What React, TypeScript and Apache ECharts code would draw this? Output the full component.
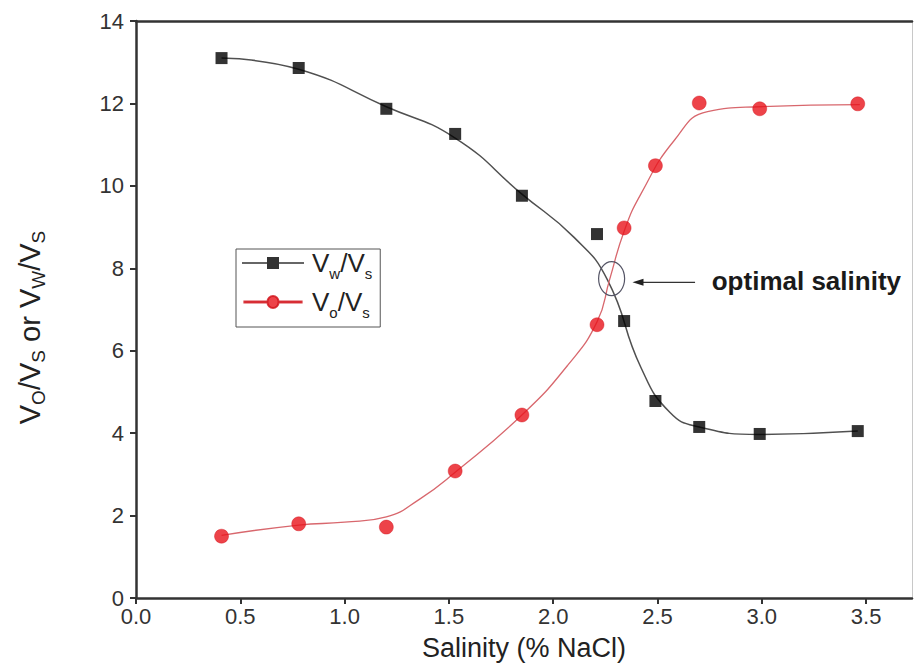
import React, { useEffect, useRef } from 'react';
import * as echarts from 'echarts';

const salinity = [0.41, 0.78, 1.2, 1.53, 1.85, 2.21, 2.34, 2.49, 2.7, 2.99, 3.46];
const vwVs = [13.1, 12.86, 11.87, 11.26, 9.76, 8.83, 6.72, 4.78, 4.15, 3.98, 4.05];
const voVs = [1.5, 1.8, 1.72, 3.08, 4.44, 6.63, 8.98, 10.49, 12.01, 11.87, 11.99];

// Fitted curves as drawn in the picture
const wFitX = [0.41, 0.78, 1.2, 1.53, 1.85, 2.1, 2.26, 2.42, 2.56, 2.7, 2.99, 3.46];
const wFitY = [13.1, 12.83, 11.92, 11.16, 9.8, 8.75, 7.72, 5.6, 4.5, 4.15, 3.97, 4.05];
const oFitX = [0.41, 0.78, 1.0, 1.2, 1.36, 1.53, 1.85, 2.07, 2.21, 2.27, 2.34, 2.42, 2.58, 2.74, 2.99, 3.47];
const oFitY = [1.52, 1.77, 1.84, 1.97, 2.4, 3.05, 4.44, 5.65, 6.7, 7.72, 8.9, 9.8, 11.1, 11.8, 11.92, 11.97];

const xTicks = [0, 0.5, 1, 1.5, 2, 2.5, 3, 3.5];
const yTicks = [0, 2, 4, 6, 8, 10, 12, 14];

const nameW = 'Vw/Vs';
const nameO = 'Vo/Vs';

const FONT = '"Liberation Sans", Arial, Helvetica, sans-serif';

const W_ICON = 'path://M0,5.3H25V0H37V5.3H62V6.7H37V12H25V6.7H0Z';
const O_ICON = 'path://M0,5.5H25A6,6 0 0 1 37,5.5H62V6.5H37A6,6 0 0 1 25,6.5H0Z';

export default function App() {
  const ref = useRef<HTMLDivElement>(null);
  useEffect(() => {
    const chart = echarts.init(ref.current!, null, { renderer: 'svg' });
    const option: any = {
      animation: false,
      backgroundColor: '#fff',
      textStyle: { fontFamily: FONT },
      grid: { left: 136, right: 3, top: 21, bottom: 73, containLabel: false, outerBoundsMode: 'none' },
      legend: {
        orient: 'vertical',
        left: 236,
        top: 249,
        padding: [1, 8, 7, 6],
        itemGap: 8,
        itemWidth: 62,
        itemHeight: 12,
        borderColor: '#555',
        borderWidth: 1,
        selectedMode: false,
        data: [
          { name: nameW, icon: W_ICON },
          { name: nameO, icon: O_ICON },
        ],
        formatter: (n: string) =>
          n === nameW ? '{g|}{v|V}{sub|w}{v|/V}{sub|s}' : '{g|}{v|V}{sub|o}{v|/V}{sub|s}',
        textStyle: {
          color: '#222',
          fontFamily: FONT,
          rich: {
            g: { width: 3 },
            v: { fontSize: 26, lineHeight: 36, fontFamily: FONT, color: '#222', verticalAlign: 'middle' },
            sub: { fontSize: 15, lineHeight: 14, fontFamily: FONT, color: '#222', verticalAlign: 'bottom' },
          },
        },
      },
      xAxis: [
        {
          type: 'value',
          position: 'bottom',
          min: 0,
          max: 3.72,
          interval: 0.5,
          axisLine: { show: true, onZero: false, lineStyle: { color: '#333', width: 2.5 } },
          axisTick: { show: true, inside: false, length: 6, customValues: xTicks, lineStyle: { color: '#333', width: 2 } },
          axisLabel: {
            customValues: xTicks,
            formatter: (v: number) => v.toFixed(1),
            fontSize: 22,
            color: '#333',
            margin: 7,
            fontFamily: FONT,
          },
          splitLine: { show: false },
          name: 'Salinity (% NaCl)',
          nameLocation: 'middle',
          nameGap: 36,
          nameTextStyle: { fontSize: 27, color: '#222', fontFamily: FONT },
        },
        {
          type: 'value',
          position: 'top',
          min: 0,
          max: 3.72,
          axisLine: { show: true, onZero: false, lineStyle: { color: '#333', width: 2.5 } },
          axisTick: { show: false },
          axisLabel: { show: false },
          splitLine: { show: false },
        },
      ],
      yAxis: [
        {
          type: 'value',
          position: 'left',
          min: 0,
          max: 14,
          interval: 2,
          axisLine: { show: true, onZero: false, lineStyle: { color: '#333', width: 2.5 } },
          axisTick: { show: true, inside: false, length: 6, customValues: yTicks, lineStyle: { color: '#333', width: 2 } },
          axisLabel: { customValues: yTicks, fontSize: 22, color: '#333', margin: 12, fontFamily: FONT },
          splitLine: { show: false },
          name: '{v|V}{sub|O}{v|/V}{sub|S}{v| or V}{sub|W}{v|/V}{sub|S}',
          nameLocation: 'middle',
          nameRotate: 90,
          nameGap: 88,
          nameTextStyle: {
            padding: [0, 36, 0, 0],
            rich: {
              v: { fontSize: 29, lineHeight: 36, fontFamily: FONT, color: '#222', verticalAlign: 'middle' },
              sub: { fontSize: 19, lineHeight: 16, fontFamily: FONT, color: '#222', verticalAlign: 'bottom' },
            },
          },
        },
        {
          type: 'value',
          position: 'right',
          min: 0,
          max: 14,
          axisLine: { show: true, onZero: false, lineStyle: { color: '#c8c8c8', width: 1 } },
          axisTick: { show: false },
          axisLabel: { show: false },
          splitLine: { show: false },
        },
      ],
      series: [
        {
          type: 'scatter',
          name: nameW,
          data: salinity.map((x, i) => [x, vwVs[i]]),
          symbol: 'rect',
          symbolSize: 12,
          itemStyle: { color: '#000' },
          z: 4,
        },
        {
          type: 'scatter',
          name: nameO,
          data: salinity.map((x, i) => [x, voVs[i]]),
          symbol: 'circle',
          symbolSize: 14,
          itemStyle: { color: '#e8141c', borderColor: '#d01018', borderWidth: 0.5 },
          z: 4,
        },
        {
          type: 'line',
          name: nameW,
          data: wFitX.map((x, i) => [x, wFitY[i]]),
          smooth: 0.5,
          symbol: 'none',
          lineStyle: { color: '#505050', width: 1.5 },
          itemStyle: { color: '#000' },
          z: 2,
          silent: true,
        },
        {
          type: 'line',
          name: nameO,
          data: oFitX.map((x, i) => [x, oFitY[i]]),
          smooth: 0.5,
          symbol: 'none',
          lineStyle: { color: '#d8676d', width: 1.3 },
          itemStyle: { color: '#e8141c' },
          z: 2,
          silent: true,
        },
      ],
    };
    chart.setOption(option);

    const c = chart.convertToPixel({ gridIndex: 0 }, [2.28, 7.75]) as number[];
    const a0 = chart.convertToPixel({ gridIndex: 0 }, [2.68, 7.66]) as number[];
    const a1 = chart.convertToPixel({ gridIndex: 0 }, [2.38, 7.66]) as number[];
    const t = chart.convertToPixel({ gridIndex: 0 }, [2.76, 7.7]) as number[];
    chart.setOption({
      graphic: [
        {
          type: 'ellipse',
          shape: { cx: c[0], cy: c[1], rx: 13, ry: 17 },
          style: { fill: 'none', stroke: '#556', lineWidth: 1.2 },
          z: 10,
        },
        {
          type: 'line',
          shape: { x1: a0[0], y1: a0[1], x2: a1[0] + 8, y2: a1[1] },
          style: { stroke: '#333', lineWidth: 1.2 },
          z: 10,
        },
        {
          type: 'polygon',
          shape: { points: [[a1[0], a1[1]], [a1[0] + 11, a1[1] - 3.5], [a1[0] + 11, a1[1] + 3.5]] },
          style: { fill: '#222' },
          z: 10,
        },
        {
          type: 'text',
          x: t[0],
          y: t[1],
          style: {
            text: 'optimal salinity',
            fontSize: 26,
            fontWeight: 'bold',
            fontFamily: FONT,
            fill: '#1a1a1a',
            textAlign: 'left',
            textVerticalAlign: 'middle',
          },
          z: 10,
        },
      ],
    });
    return () => chart.dispose();
  }, []);
  return (
    <div
      ref={ref}
      style={{ position: 'fixed', left: 0, top: 0, width: 915, height: 671, background: '#fff' }}
    />
  );
}
